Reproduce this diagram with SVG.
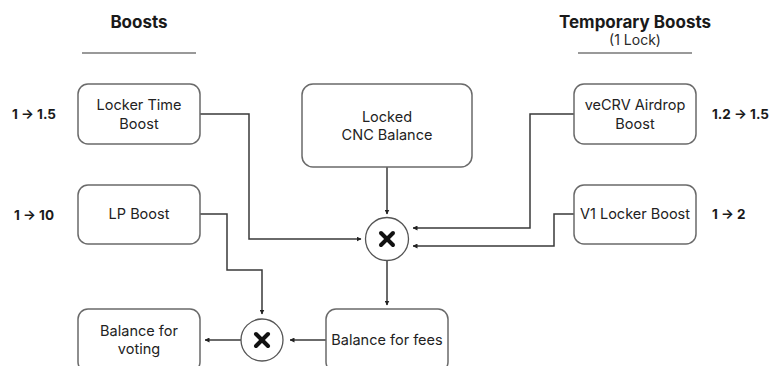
<svg xmlns="http://www.w3.org/2000/svg" width="772" height="366" viewBox="0 0 772 366">
<defs>
<style>
.box{fill:#fff;stroke:#6a6a6a;stroke-width:1.5}
.t{font-family:Inter,"Liberation Sans",sans-serif;font-size:14.5px;fill:#222;text-anchor:middle}
.h{font-family:Inter,"Liberation Sans",sans-serif;font-size:17px;font-weight:700;fill:#1a1a1a;text-anchor:middle}
.s{font-family:Inter,"Liberation Sans",sans-serif;font-size:14px;fill:#2a2a2a;text-anchor:middle}
.v{font-family:Inter,"Liberation Sans",sans-serif;font-size:13.5px;font-weight:700;fill:#1a1a1a}
.rule{stroke:#777;stroke-width:1.5}
.c{fill:none;stroke:#3a3a3a;stroke-width:1.5}
.op{fill:#fff;stroke:#555;stroke-width:1.3}
.x{stroke:#111;stroke-width:4;stroke-linecap:round}
</style>
<marker id="ah" viewBox="0 0 10 10" refX="9" refY="5" markerWidth="5" markerHeight="5" orient="auto" markerUnits="userSpaceOnUse">
<path d="M0,0 L10,5 L0,10 z" fill="#222"/>
</marker>
</defs>
<rect width="772" height="366" fill="#fff"/>

<g id="header-boosts">
<text class="h" x="139" y="28">Boosts</text>
<line class="rule" x1="82" y1="53" x2="196" y2="53"/>
</g>
<g id="header-temp">
<text class="h" x="635" y="28">Temporary Boosts</text>
<text class="s" x="635" y="45">(1 Lock)</text>
<line class="rule" x1="578" y1="53" x2="692" y2="53"/>
</g>

<g id="connectors">
<path class="c" d="M387,167 V214" marker-end="url(#ah)"/>
<path class="c" d="M200,114 H249 V239 H361" marker-end="url(#ah)"/>
<path class="c" d="M200,214 H227 V270 H262 V314" marker-end="url(#ah)"/>
<path class="c" d="M574,114 H530 V228 H413" marker-end="url(#ah)"/>
<path class="c" d="M574,214 H554 V246 H413" marker-end="url(#ah)"/>
<path class="c" d="M387,261 V305" marker-end="url(#ah)"/>
<path class="c" d="M326,340 H290" marker-end="url(#ah)"/>
<path class="c" d="M241,340 H205" marker-end="url(#ah)"/>
</g>

<g id="locker-time">
<rect class="box" x="78" y="84" width="122" height="60" rx="10"/>
<text class="t" x="139" y="110">Locker Time</text>
<text class="t" x="139" y="129">Boost</text>
<text class="v" x="12" y="119">1 → 1.5</text>
</g>
<g id="lp-boost">
<rect class="box" x="78" y="185" width="122" height="59" rx="10"/>
<text class="t" x="139" y="219">LP Boost</text>
<text class="v" x="14" y="220">1 → 10</text>
</g>
<g id="locked-cnc">
<rect class="box" x="302" y="84" width="170" height="83" rx="11"/>
<text class="t" x="387" y="122">Locked</text>
<text class="t" x="387" y="140">CNC Balance</text>
</g>
<g id="vecrv">
<rect class="box" x="574" y="84" width="122" height="60" rx="10"/>
<text class="t" x="635" y="110">veCRV Airdrop</text>
<text class="t" x="635" y="129">Boost</text>
<text class="v" x="712" y="119">1.2 → 1.5</text>
</g>
<g id="v1-locker">
<rect class="box" x="574" y="185" width="122" height="59" rx="10"/>
<text class="t" x="635" y="219">V1 Locker Boost</text>
<text class="v" x="712" y="219">1 → 2</text>
</g>
<g id="mult-top">
<circle class="op" cx="387" cy="239" r="21.5"/>
<line class="x" x1="381" y1="233" x2="393" y2="245"/>
<line class="x" x1="393" y1="233" x2="381" y2="245"/>
</g>
<g id="balance-fees">
<rect class="box" x="326" y="309" width="122" height="63" rx="10"/>
<text class="t" x="387" y="345">Balance for fees</text>
</g>
<g id="mult-bottom">
<circle class="op" cx="262" cy="340" r="21"/>
<line class="x" x1="256" y1="334" x2="268" y2="346"/>
<line class="x" x1="268" y1="334" x2="256" y2="346"/>
</g>
<g id="balance-voting">
<rect class="box" x="78" y="309" width="122" height="63" rx="10"/>
<text class="t" x="139" y="336">Balance for</text>
<text class="t" x="139" y="354">voting</text>
</g>
</svg>
